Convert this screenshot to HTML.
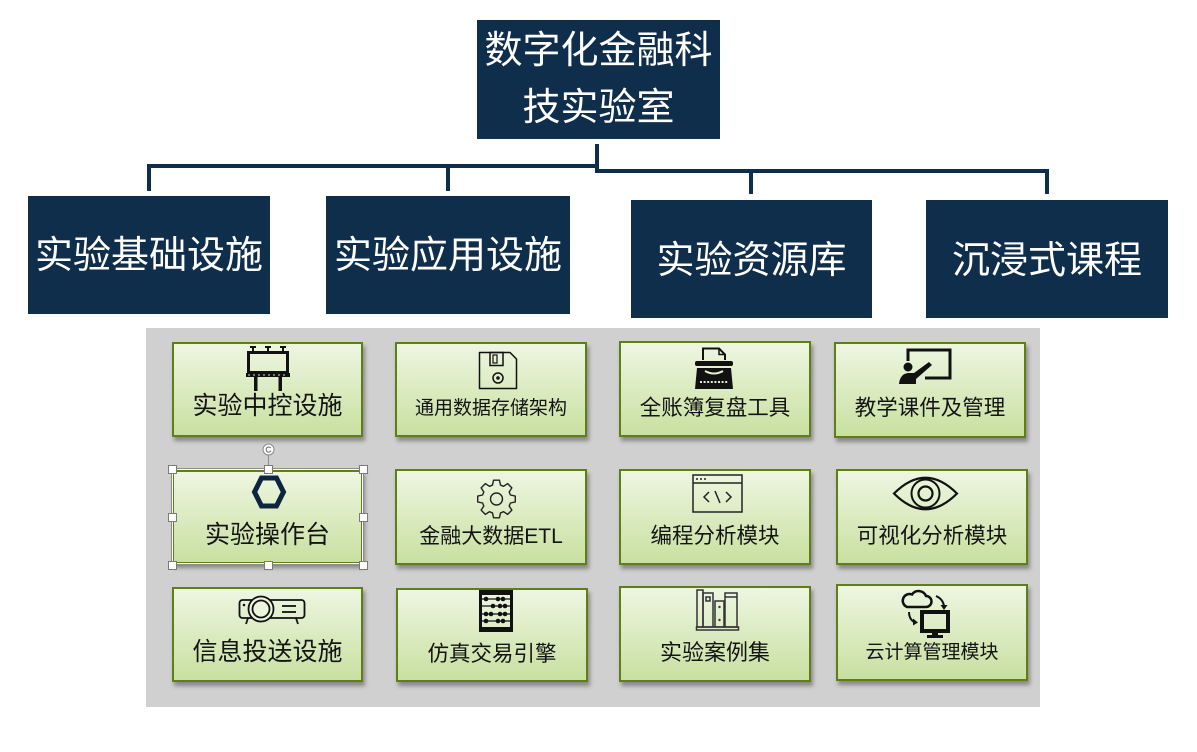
<!DOCTYPE html>
<html><head><meta charset="utf-8">
<style>
html,body{margin:0;padding:0;background:#fff;}
body{width:1197px;height:752px;position:relative;overflow:hidden;font-family:"Liberation Sans","Noto Sans CJK SC",sans-serif;}
.nv{position:absolute;background:#0f2e4b;}
.box{position:absolute;background:#0f2e4b;color:#fff;}
.bt{position:absolute;left:0;width:100%;text-align:center;font-size:38px;line-height:38px;white-space:nowrap;font-family:"Liberation Sans","Noto Sans CJK SC",sans-serif;}
.panel{position:absolute;left:146px;top:328px;width:894px;height:379px;background:#d0d0d0;}
.card{position:absolute;box-sizing:border-box;border:2px solid #5f7f16;background:linear-gradient(#eef6e2,#c8e0a0);box-shadow:2px 4px 4px rgba(0,0,0,.35);}
.lbl{position:absolute;left:0;width:100%;text-align:center;color:#141414;white-space:nowrap;line-height:1;font-family:"Liberation Sans","Noto Sans CJK SC",sans-serif;}
svg{position:absolute;overflow:visible;}
.h{position:absolute;width:7px;height:7px;background:#fff;border:1px solid #7a7a7a;}
</style></head><body>

<!-- top box -->
<div class="box" style="left:477px;top:20px;width:243px;height:119px;">
  <div class="bt" style="top:12px;">数字化金融科</div>
  <div class="bt" style="top:69px;">技实验室</div>
</div>

<!-- connectors -->
<div class="nv" style="left:595px;top:144px;width:4px;height:29px;"></div>
<div class="nv" style="left:147px;top:164px;width:452px;height:4px;"></div>
<div class="nv" style="left:597px;top:169px;width:452px;height:4px;"></div>
<div class="nv" style="left:147px;top:164px;width:4px;height:27px;"></div>
<div class="nv" style="left:446px;top:164px;width:4px;height:27px;"></div>
<div class="nv" style="left:749px;top:169px;width:4px;height:25px;"></div>
<div class="nv" style="left:1045px;top:169px;width:4px;height:25px;"></div>

<!-- level 2 boxes -->
<div class="box" style="left:28px;top:196px;width:242px;height:118px;"><div class="bt" style="top:41px;">实验基础设施</div></div>
<div class="box" style="left:326px;top:196px;width:244px;height:118px;"><div class="bt" style="top:41px;">实验应用设施</div></div>
<div class="box" style="left:631px;top:200px;width:241px;height:118px;"><div class="bt" style="top:42px;">实验资源库</div></div>
<div class="box" style="left:926px;top:200px;width:242px;height:118px;"><div class="bt" style="top:42px;">沉浸式课程</div></div>

<div class="panel"></div>

<!-- Row 1 -->
<div class="card" style="left:172px;top:342px;width:191px;height:95px;"><div class="lbl" style="font-size:25px;top:50px;">实验中控设施</div></div>
<div class="card" style="left:395px;top:342px;width:192px;height:95px;"><div class="lbl" style="font-size:19px;top:55px;">通用数据存储架构</div></div>
<div class="card" style="left:619px;top:341px;width:192px;height:96px;"><div class="lbl" style="font-size:21.5px;top:55px;">全账簿复盘工具</div></div>
<div class="card" style="left:834px;top:342px;width:192px;height:96px;"><div class="lbl" style="font-size:21.5px;top:54px;">教学课件及管理</div></div>

<!-- Row 2 -->
<div class="card" style="left:172px;top:470px;width:191px;height:94px;"><div class="lbl" style="font-size:25px;top:51px;">实验操作台</div></div>
<div class="card" style="left:395px;top:469px;width:192px;height:96px;"><div class="lbl" style="font-size:21px;top:55px;">金融大数据ETL</div></div>
<div class="card" style="left:619px;top:469px;width:192px;height:96px;"><div class="lbl" style="font-size:21.5px;top:55px;">编程分析模块</div></div>
<div class="card" style="left:836px;top:469px;width:192px;height:96px;"><div class="lbl" style="font-size:21.5px;top:55px;">可视化分析模块</div></div>

<!-- Row 3 -->
<div class="card" style="left:172px;top:587px;width:191px;height:95px;"><div class="lbl" style="font-size:25px;top:51px;">信息投送设施</div></div>
<div class="card" style="left:396px;top:588px;width:192px;height:94px;"><div class="lbl" style="font-size:21.5px;top:54px;">仿真交易引擎</div></div>
<div class="card" style="left:619px;top:586px;width:192px;height:96px;"><div class="lbl" style="font-size:22px;top:54px;">实验案例集</div></div>
<div class="card" style="left:836px;top:584px;width:192px;height:97px;"><div class="lbl" style="font-size:19px;top:57px;">云计算管理模块</div></div>

<!-- Icons -->
<svg style="left:244px;top:346px;" width="48" height="46" viewBox="0 0 48 46">
  <g fill="#111" stroke="#111">
    <rect x="6" y="0" width="6" height="2" stroke="none"/><rect x="21" y="0" width="6" height="2" stroke="none"/><rect x="36" y="0" width="6" height="2" stroke="none"/>
    <line x1="9" y1="2" x2="9" y2="6" stroke-width="2"/><line x1="24" y1="2" x2="24" y2="6" stroke-width="2"/><line x1="39" y1="2" x2="39" y2="6" stroke-width="2"/>
    <rect x="4.5" y="6.5" width="39" height="20" fill="none" stroke-width="3"/>
    <rect x="2" y="27" width="44" height="4" stroke="none"/>
    <line x1="4" y1="29" x2="44" y2="29" stroke="#cfe3ae" stroke-width="1" stroke-dasharray="2 3"/>
    <rect x="10" y="31" width="3.5" height="14" stroke="none"/>
    <rect x="34.5" y="31" width="3.5" height="14" stroke="none"/>
  </g>
</svg>
<svg style="left:478px;top:351px;" width="40" height="39" viewBox="0 0 40 39">
  <g fill="none" stroke="#111" stroke-width="1.5">
    <path d="M1.5,1.5 H32 L38.5,8 V37.5 H1.5 Z" stroke-linejoin="round"/>
    <rect x="12" y="1.5" width="13" height="13"/>
    <rect x="15" y="4" width="4" height="8" stroke-width="1.2"/>
    <circle cx="20" cy="27" r="5"/>
  </g>
  <circle cx="20" cy="27" r="1.8" fill="#111"/>
</svg>
<svg style="left:694px;top:347px;" width="40" height="43" viewBox="0 0 40 43">
  <path d="M9,13 V1.5 H25 L31,7.5 V13" fill="none" stroke="#111" stroke-width="2"/>
  <path d="M25,1.5 V7.5 H31" fill="none" stroke="#111" stroke-width="1.5"/>
  <rect x="1" y="14" width="38" height="5" rx="2" fill="#111"/>
  <path d="M3,21 H37 L39,42 H1 Z" fill="#111"/>
  <path d="M11,24 Q20,29 29,24" fill="none" stroke="#e5f0d5" stroke-width="2"/>
  <line x1="6" y1="35" x2="34" y2="35" stroke="#e0ecd0" stroke-width="2" stroke-dasharray="2 1.6"/>
</svg>
<svg style="left:898px;top:348px;" width="54" height="38" viewBox="0 0 54 38">
  <path d="M10,13 V2 H52 V30 H27" fill="none" stroke="#111" stroke-width="3"/>
  <circle cx="10" cy="19" r="4.5" fill="#111"/>
  <path d="M1,36 Q2,26 10,25 L16,25 L31,14 L34,17 L18,31 L18,36 Z" fill="#111"/>
</svg>
<svg style="left:252px;top:475px;" width="34" height="34" viewBox="0 0 34 34">
  <polygon points="9.5,3 24.5,3 31.5,17 24.5,31 9.5,31 2.5,17" fill="none" stroke="#0e2540" stroke-width="5"/>
</svg>
<svg style="left:475px;top:478px;" width="43" height="42" viewBox="0 0 43 42">
  <polygon fill="none" stroke="#222" stroke-width="1.4" stroke-linejoin="round" points="18.53,2.23 24.47,2.23 25.5,7.06 28.53,8.32 32.67,5.63 36.87,9.83 34.18,13.97 35.44,17 40.27,18.03 40.27,23.97 35.44,25 34.18,28.03 36.87,32.17 32.67,36.37 28.53,33.68 25.5,34.94 24.47,39.77 18.53,39.77 17.5,34.94 14.47,33.68 10.33,36.37 6.13,32.17 8.82,28.03 7.56,25 2.73,23.97 2.73,18.03 7.56,17 8.82,13.97 6.13,9.83 10.33,5.63 14.47,8.32 17.5,7.06"/>
  <circle cx="21.5" cy="21" r="6" fill="none" stroke="#222" stroke-width="1.4"/>
</svg>
<svg style="left:692px;top:474px;" width="51" height="39" viewBox="0 0 51 39">
  <g fill="none" stroke="#222" stroke-width="1.5">
    <rect x="1" y="1" width="49" height="37"/>
    <line x1="1" y1="9" x2="50" y2="9"/>
    <polyline points="17,18 12,23 17,28"/>
    <line x1="23" y1="17" x2="28" y2="29"/>
    <polyline points="34,18 39,23 34,28"/>
  </g>
  <circle cx="5" cy="5" r="1" fill="#222"/><circle cx="9" cy="5" r="1" fill="#222"/><circle cx="13" cy="5" r="1" fill="#222"/>
</svg>
<svg style="left:892px;top:474px;" width="67" height="39" viewBox="0 0 67 39">
  <g fill="none" stroke="#111">
    <path d="M2,19.5 Q33.5,-12 65,19.5 Q33.5,51 2,19.5 Z" stroke-width="2.2"/>
    <circle cx="33.5" cy="19.5" r="14" stroke-width="2"/>
    <circle cx="33.5" cy="19.5" r="7" stroke-width="2.2"/>
  </g>
</svg>
<svg style="left:238px;top:596px;" width="68" height="30" viewBox="0 0 68 30">
  <g fill="none" stroke="#111" stroke-width="1.8">
    <rect x="1.5" y="4" width="65" height="18" rx="3"/>
    <circle cx="23" cy="13" r="12.5" fill="#ebf4dc"/>
    <circle cx="23" cy="13" r="8.5"/>
    <line x1="44" y1="10" x2="58" y2="10"/>
    <line x1="44" y1="16" x2="58" y2="16"/>
    <line x1="10" y1="22" x2="8" y2="28"/>
    <line x1="58" y1="22" x2="60" y2="28"/>
  </g>
  <circle cx="6" cy="9" r="1.3" fill="#111"/>
</svg>
<svg style="left:479px;top:590px;" width="34" height="42" viewBox="0 0 34 42">
  <g fill="#111">
    <rect x="0" y="0" width="34" height="5"/>
    <rect x="0" y="37" width="34" height="5"/>
    <rect x="0" y="0" width="3" height="42"/>
    <rect x="31" y="0" width="3" height="42"/>
  </g>
  <g stroke="#111" stroke-width="1.2">
    <line x1="3" y1="9" x2="31" y2="9"/><line x1="3" y1="16" x2="31" y2="16"/><line x1="3" y1="24" x2="31" y2="24"/><line x1="3" y1="31" x2="31" y2="31"/>
  </g>
  <g fill="#111">
    <circle cx="7" cy="9" r="2.3"/><circle cx="19" cy="9" r="2.3"/><circle cx="24" cy="9" r="2.3"/>
    <circle cx="14" cy="16" r="2.3"/><circle cx="21" cy="16" r="2.3"/><circle cx="26" cy="16" r="2.3"/>
    <circle cx="7" cy="24" r="2.3"/><circle cx="12" cy="24" r="2.3"/><circle cx="21" cy="24" r="2.3"/><circle cx="26" cy="24" r="2.3"/>
    <circle cx="7" cy="31" r="2.3"/><circle cx="19" cy="31" r="2.3"/><circle cx="24" cy="31" r="2.3"/>
  </g>
</svg>
<svg style="left:696px;top:588px;" width="44" height="43" viewBox="0 0 44 43">
  <g fill="none" stroke="#333" stroke-width="1.5">
    <rect x="1" y="2" width="6" height="37"/>
    <rect x="7" y="5" width="10" height="34"/>
    <rect x="10" y="9" width="4" height="4"/>
    <rect x="19" y="13" width="9" height="26"/>
    <rect x="29" y="5" width="12" height="34"/>
    <line x1="29" y1="9" x2="41" y2="9"/>
    <rect x="0.5" y="39" width="42" height="3"/>
  </g>
  <circle cx="23.5" cy="19" r="1.2" fill="#333"/><circle cx="23.5" cy="32" r="1.2" fill="#333"/>
</svg>
<svg style="left:900px;top:588px;" width="52" height="52" viewBox="0 0 52 52">
  <path d="M7,19 H26 A5.5,5.5 0 0 0 26,8 A8,8 0 0 0 12,6.5 A6.3,6.3 0 0 0 7,19 Z" fill="none" stroke="#111" stroke-width="2.5"/>
  <path d="M36,8 Q43,11 44,18" fill="none" stroke="#111" stroke-width="2"/>
  <polygon points="40.5,17 47.5,17 44,22" fill="#111"/>
  <path d="M9,24 Q9,31 14,34" fill="none" stroke="#111" stroke-width="2"/>
  <polygon points="13,30.5 13,37.5 18,34.5" fill="#111"/>
  <rect x="22" y="24" width="26" height="19" fill="none" stroke="#111" stroke-width="4"/>
  <rect x="32" y="43" width="6" height="5" fill="#111"/>
  <rect x="27" y="47" width="16" height="3" fill="#111"/>
</svg>

<!-- selection overlay on card E -->
<div style="position:absolute;left:171px;top:468px;width:191px;height:95px;border:1px solid #8c8c8c;box-shadow:inset 0 0 0 1px #fff;"></div>
<div style="position:absolute;left:268px;top:454px;width:1px;height:15px;background:#8c8c8c;"></div>
<svg style="left:262px;top:443px;" width="13" height="13" viewBox="0 0 13 13">
  <circle cx="6.5" cy="6.5" r="5.5" fill="#fff" stroke="#8a8a8a" stroke-width="1"/>
  <path d="M8.8,5 A2.6,2.6 0 1 0 9,7.8" fill="none" stroke="#666" stroke-width="1"/>
</svg>
<div class="h" style="left:168px;top:465px;"></div>
<div class="h" style="left:264px;top:465px;"></div>
<div class="h" style="left:359px;top:465px;"></div>
<div class="h" style="left:168px;top:513px;"></div>
<div class="h" style="left:359px;top:513px;"></div>
<div class="h" style="left:168px;top:561px;"></div>
<div class="h" style="left:264px;top:561px;"></div>
<div class="h" style="left:359px;top:561px;"></div>

</body></html>
